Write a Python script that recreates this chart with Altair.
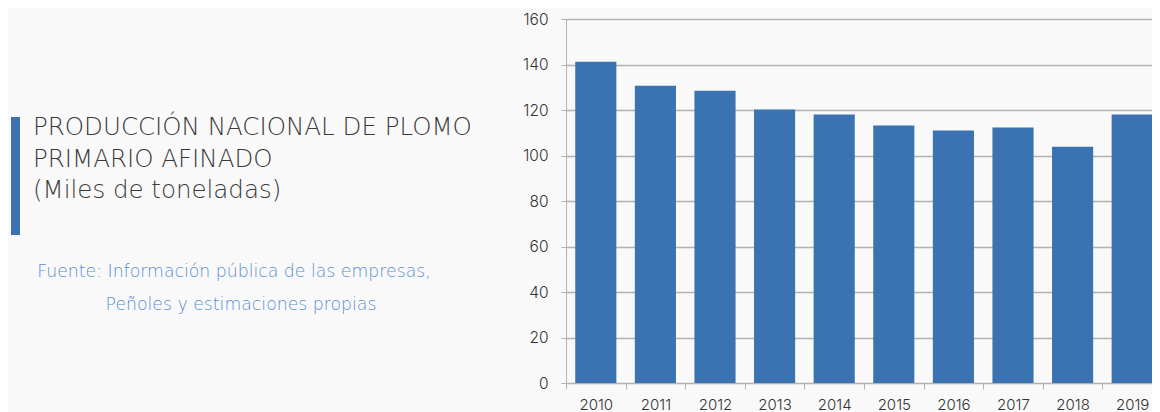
import altair as alt
import pandas as pd

# ---- data ----
years = ["2010", "2011", "2012", "2013", "2014", "2015", "2016", "2017", "2018", "2019"]
values = [141.2, 130.7, 128.5, 120.2, 118.0, 113.2, 111.0, 112.3, 103.9, 118.0]
y_ticks = [0, 20, 40, 60, 80, 100, 120, 140, 160]
title_lines = ["PRODUCCIÓN NACIONAL DE PLOMO", "PRIMARIO AFINADO", "(Miles de toneladas)"]
source_lines = ["Fuente: Información pública de las empresas,", "Peñoles y estimaciones propias"]

BLUE = "#3a72b2"
GRID = "#b2b2b2"
FONT = "Inter"
TFONT = "DejaVu Sans"
SRC = "#5a8fd2"
STEP = 59.6

df = pd.DataFrame({"year": years, "value": values})

bars = alt.Chart(df).mark_bar(color=BLUE, width=alt.RelativeBandSize(0.69)).encode(
    x=alt.X(
        "year:O",
        sort=None,
        title=None,
        scale=alt.Scale(range=[0, STEP * len(years)], paddingInner=0, paddingOuter=0),
        axis=alt.Axis(
            labelAngle=0,
            labelFontSize=15,
            labelColor="#333333",
            labelFont=FONT,
            labelFontWeight=300,
            labelPadding=8,
            tickSize=6,
            tickOffset=-STEP / 2,
            labelOffset=STEP / 2,
            tickColor=GRID,
            domainColor=GRID,
            grid=False,
        ),
    ),
    y=alt.Y(
        "value:Q",
        title=None,
        scale=alt.Scale(domain=[0, 160], nice=False),
        axis=alt.Axis(
            values=y_ticks,
            labelFontSize=15.5,
            labelColor="#333333",
            labelFont=FONT,
            labelFontWeight=300,
            labelPadding=13,
            tickSize=5,
            tickColor=GRID,
            domainColor=GRID,
            gridColor=GRID,
            gridWidth=1.3,
        ),
    ),
)

title_df = pd.DataFrame({"t": ["\n".join(title_lines)]})
title_text = alt.Chart(title_df).mark_text(
    align="left",
    baseline="alphabetic",
    lineBreak="\n",
    lineHeight=31.5,
    fontSize=24.5,
    font=TFONT,
    fontWeight=200,
    color="#3a3a3a",
).encode(x=alt.value(-533), y=alt.value(116), text="t:N")

accent = alt.Chart(pd.DataFrame({"a": [1]})).mark_rect(color=BLUE).encode(
    x=alt.value(-555), x2=alt.value(-546), y=alt.value(98), y2=alt.value(216)
)

src1 = alt.Chart(pd.DataFrame({"t": [source_lines[0]]})).mark_text(
    align="center", baseline="alphabetic", fontSize=17.3, font=TFONT, fontWeight=200, color=SRC
).encode(x=alt.value(-332), y=alt.value(258), text="t:N")

src2 = alt.Chart(pd.DataFrame({"t": [source_lines[1]]})).mark_text(
    align="center", baseline="alphabetic", fontSize=17.3, font=TFONT, fontWeight=200, color=SRC
).encode(x=alt.value(-325), y=alt.value(291), text="t:N")

chart = alt.layer(bars, accent, title_text, src1, src2).properties(
    width=586,
    height=364,
    background="#f9f9f9",
    padding={"left": 558, "top": 11, "right": 0, "bottom": 29},
    autosize=alt.AutoSizeParams(type="none"),
).configure_view(stroke=None)

chart.save("out.html", embed_options={"renderer": "svg", "actions": False})
